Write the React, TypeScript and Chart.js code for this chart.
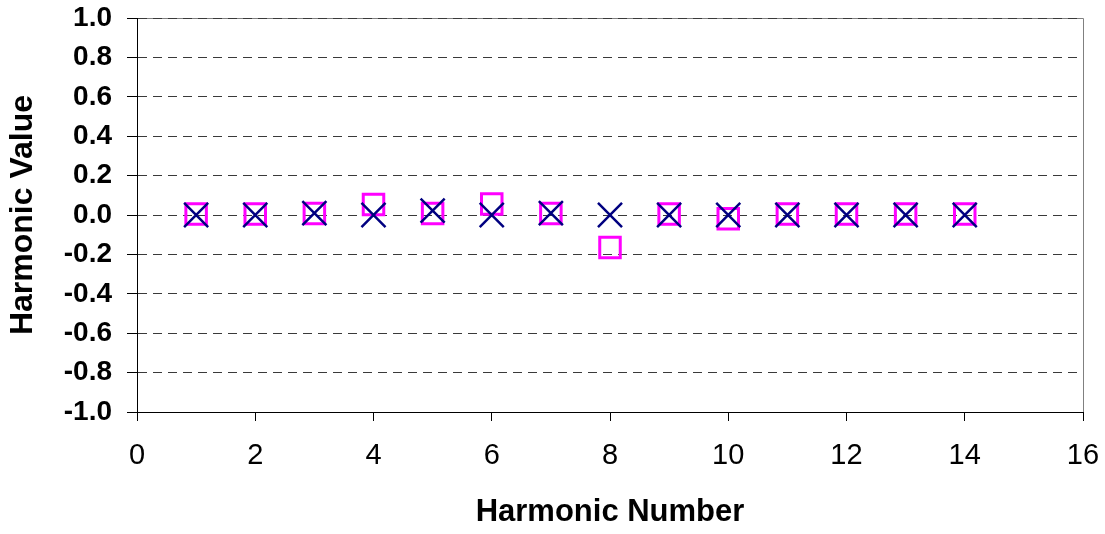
import React, { useEffect, useRef } from "react";
import { Chart, registerables } from "chart.js";

Chart.register(...registerables);

const harmonics = [1, 2, 3, 4, 5, 6, 7, 8, 9, 10, 11, 12, 13, 14];
const crossValues = [0, 0, 0.01, 0, 0.022, 0, 0.01, 0, 0, 0, 0, 0, 0, 0];
const squareValues = [0.005, 0.005, 0.007, 0.053, 0.007, 0.056, 0.007, -0.165, 0.005, -0.019, 0.005, 0.005, 0.005, 0.005];
const xTicks = [0, 2, 4, 6, 8, 10, 12, 14, 16];
const yTicks = [-1.0, -0.8, -0.6, -0.4, -0.2, 0.0, 0.2, 0.4, 0.6, 0.8, 1.0];
const xTitle = "Harmonic Number";
const yTitle = "Harmonic Value";

const FONT = "'Liberation Sans', Arial, Helvetica, sans-serif";

export default function App() {
  const ref = useRef<HTMLCanvasElement>(null);

  useEffect(() => {
    if (!ref.current) return;
    const framePlugin = {
      id: "plotFrame",
      beforeDraw(chart: any) {
        const { ctx, chartArea } = chart;
        const { left, top, right, bottom } = chartArea;
        ctx.save();
        ctx.strokeStyle = "#808080";
        ctx.lineWidth = 1;
        ctx.beginPath();
        const t = Math.round(top) + 0.5;
        const r = Math.round(right) + 0.5;
        ctx.moveTo(left, t);
        ctx.lineTo(r, t);
        ctx.lineTo(r, bottom);
        ctx.stroke();
        ctx.restore();
      },
    };

    const chart = new Chart(ref.current, {
      type: "scatter",
      data: {
        datasets: [
          {
            label: "X",
            data: harmonics.map((h, i) => ({ x: h, y: crossValues[i] })),
            pointStyle: "crossRot",
            pointRadius: 17,
            pointHoverRadius: 17,
            borderColor: "#000080",
            backgroundColor: "#000080",
            pointBorderWidth: 2.5,
            borderWidth: 2.5,
            showLine: false,
          },
          {
            label: "Square",
            data: harmonics.map((h, i) => ({ x: h, y: squareValues[i] })),
            pointStyle: "rect",
            pointRadius: 14.5,
            pointHoverRadius: 14.5,
            borderColor: "#FF00FF",
            backgroundColor: "rgba(0,0,0,0)",
            pointBorderWidth: 3,
            borderWidth: 3,
            showLine: false,
          },
        ],
      },
      options: {
        animation: false,
        responsive: false,
        events: [],
        layout: { autoPadding: false, padding: { left: 0, top: 18, right: 22, bottom: 0 } },
        plugins: {
          legend: { display: false },
          tooltip: { enabled: false },
        },
        scales: {
          x: {
            type: "linear",
            min: 0,
            max: 16,
            afterBuildTicks: (scale: any) => {
              scale.ticks = xTicks.map((v) => ({ value: v }));
            },
            afterFit: (scale: any) => {
              scale.height = 122;
              scale.paddingLeft = 0;
              scale.paddingRight = 0;
            },
            ticks: {
              autoSkip: false,
              maxRotation: 0,
              padding: 18,
              color: "#000",
              font: { family: FONT, size: 29, weight: "normal" },
              callback: (v: any) => String(v),
            },
            grid: {
              display: true,
              drawOnChartArea: false,
              drawTicks: true,
              tickLength: 9,
              tickColor: "#000",
              tickWidth: 1,
            },
            border: { display: true, color: "#000", width: 1 },
            title: {
              display: true,
              text: xTitle,
              color: "#000",
              font: { family: FONT, size: 31, weight: "bold" },
              padding: { top: 0, bottom: 3 },
            },
          },
          y: {
            type: "linear",
            min: -1,
            max: 1,
            afterBuildTicks: (scale: any) => {
              scale.ticks = yTicks.map((v) => ({ value: v }));
            },
            afterFit: (scale: any) => {
              scale.width = 137;
              scale.paddingTop = 0;
              scale.paddingBottom = 0;
            },
            ticks: {
              autoSkip: false,
              padding: 15,
              color: "#000",
              font: { family: FONT, size: 28, weight: "bold" },
              callback: (v: any) => {
                const n = Number(v);
                return Math.abs(n) < 1e-9 ? "0.0" : n.toFixed(1);
              },
            },
            grid: {
              display: true,
              drawOnChartArea: true,
              drawTicks: true,
              tickLength: 10,
              color: "#3a3a3a",
              lineWidth: 1,
              tickColor: "#000",
              tickWidth: 1,
              tickBorderDash: [],
            },
            border: { display: true, color: "#000", width: 1, dash: [9, 6] },
            title: {
              display: true,
              text: yTitle,
              color: "#000",
              font: { family: FONT, size: 32, weight: "bold" },
              padding: { top: 4, bottom: 0 },
            },
          },
        },
      },
      plugins: [framePlugin],
    } as any);

    return () => chart.destroy();
  }, []);

  return (
    <div style={{ position: "absolute", left: 0, top: 0, width: 1105, height: 534, background: "#fff" }}>
      <canvas ref={ref} width={1105} height={534} style={{ display: "block" }} />
    </div>
  );
}
